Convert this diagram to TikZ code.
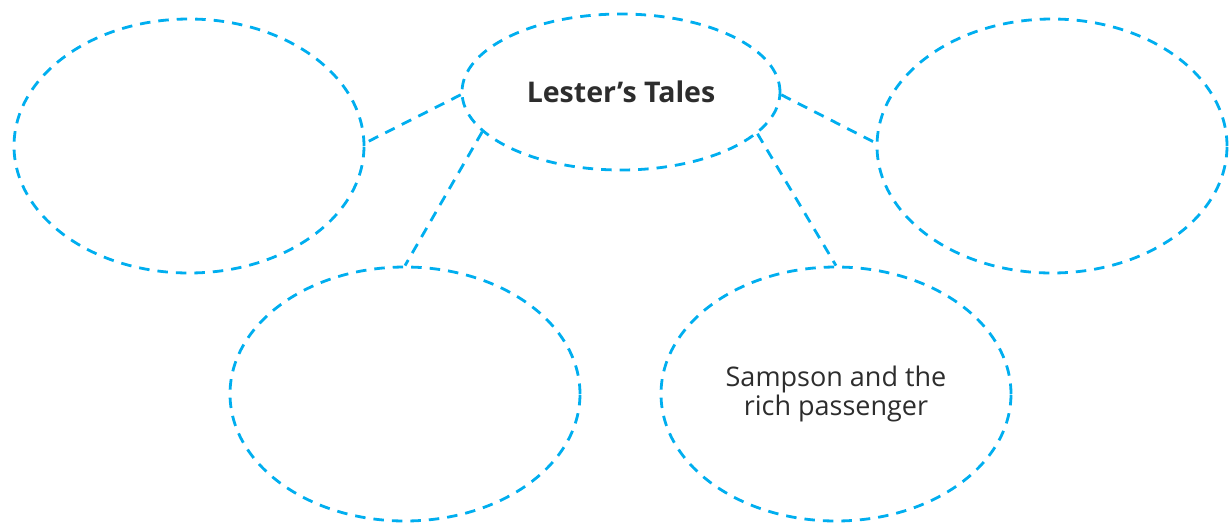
\documentclass[tikz,border=0pt]{standalone}
\usepackage{fontspec}
\setmainfont{Open Sans}
\usetikzlibrary{shapes.geometric}
\definecolor{bubble}{RGB}{0,174,239}
\definecolor{ink}{RGB}{45,45,45}
\begin{document}
\begin{tikzpicture}[x=1pt,y=-1pt,
  dsh/.style={draw=bubble,line width=2.8pt,dash pattern=on 10.5pt off 8pt},
  bub/.style={dsh,ellipse,inner sep=0pt,minimum width=350pt,minimum height=254pt,
     text=ink,align=center,font=\fontsize{27}{28.5}\selectfont},
  link/.style={dsh}]
\useasboundingbox (0,0) rectangle (1229,523);
\node[bub,minimum width=318pt,minimum height=156pt,font=\fontsize{28.5}{30}\selectfont\bfseries] (top) at (621,92) {Lester’s Tales};
\node[bub] (left) at (189,146) {};
\node[bub] (right) at (1052,146) {};
\node[bub] (bl) at (405,394) {};
\node[bub] (br) at (836,394) {Sampson and the\\rich passenger};
\draw[link] (top.181) -- (left.1);
\draw[link] (top.196) -- (bl.90);
\draw[link] (top.-1) -- (right.179);
\draw[link] (top.-17) -- (br.90);
\end{tikzpicture}
\end{document}
